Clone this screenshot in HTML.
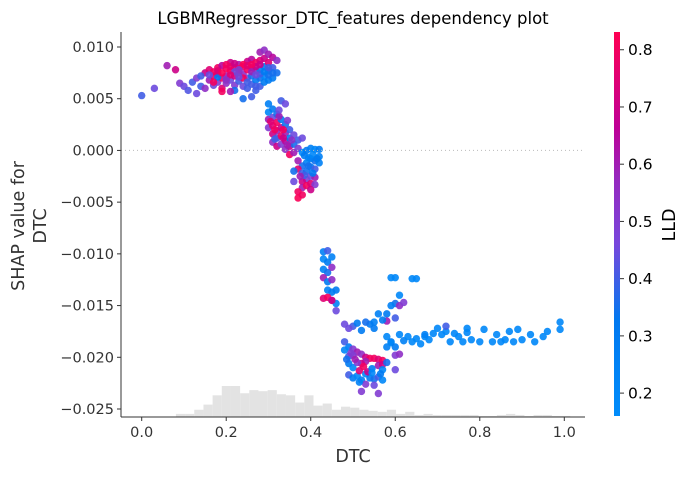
<!DOCTYPE html>
<html><head><meta charset="utf-8"><style>
html,body{margin:0;padding:0;background:#fff;}
svg text{font-family:"DejaVu Sans","Liberation Sans",sans-serif;}
</style></head><body>
<svg id="chart" width="687" height="475" viewBox="0 0 687 475" xmlns="http://www.w3.org/2000/svg">
<defs><linearGradient id="cg" x1="0" y1="1" x2="0" y2="0">
<stop offset="0" stop-color="rgb(0,140,250)"/><stop offset="0.25" stop-color="rgb(0,120,240)"/><stop offset="0.45" stop-color="rgb(120,70,220)"/><stop offset="0.62" stop-color="rgb(150,40,190)"/><stop offset="0.75" stop-color="rgb(190,0,150)"/><stop offset="1" stop-color="rgb(255,0,82)"/></linearGradient></defs>
<text x="353" y="24" font-size="16.5" text-anchor="middle" fill="#000">LGBMRegressor_DTC_features dependency plot</text>
<g id="hist"></g><g id="pts"></g><g id="axes"></g>
<text x="353" y="462" font-size="17.5" text-anchor="middle" fill="#333">DTC</text>
<text transform="translate(24,226) rotate(-90)" font-size="17.5" text-anchor="middle" fill="#333"><tspan x="0" dy="0">SHAP value for</tspan><tspan x="0" dy="22">DTC</tspan></text>
<rect x="614" y="32" width="6" height="384" fill="url(#cg)"/>
<g id="cbar"></g>
<text transform="translate(675,225) rotate(-90)" font-size="17.5" text-anchor="middle" fill="#000">LLD</text>
</svg>
<script>
const histStart=0.081, histWidth=0.0217;
const histCounts=[3,3,7,12,21,30,30,23,26,25,26,22,21,14,21,11,13,7,10,9,7,6,5,7,3,5,2,3,2,2,2,2,2,1,1,2,3,2,1,2,2,1,1];
const xTicks=[0,0.2,0.4,0.6,0.8,1.0];
const xTickLabels=["0.0","0.2","0.4","0.6","0.8","1.0"];
const yTicks=[0.010,0.005,0,-0.005,-0.010,-0.015,-0.020,-0.025];
const yTickLabels=["0.010","0.005","0.000","\u22120.005","\u22120.010","\u22120.015","\u22120.020","\u22120.025"];
const cTicks=[0.2,0.3,0.4,0.5,0.6,0.7,0.8];
const dtc=[0.00,0.03,0.06,0.08,0.09,0.10,0.11,0.12,0.13,0.13,0.14,0.15,0.15,0.16,0.16,0.17,0.17,0.18,0.18,0.18,0.19,0.19,0.19,0.20,0.20,0.20,0.21,0.21,0.21,0.22,0.22,0.22,0.22,0.23,0.23,0.23,0.24,0.24,0.24,0.25,0.25,0.25,0.25,0.26,0.26,0.26,0.26,0.27,0.27,0.27,0.27,0.28,0.28,0.28,0.28,0.28,0.29,0.29,0.29,0.29,0.29,0.30,0.30,0.30,0.30,0.31,0.31,0.31,0.32,0.32,0.21,0.19,0.24,0.26,0.18,0.14,
0.17,0.18,0.19,0.20,0.21,0.22,0.23,0.24,0.25,0.26,0.27,0.20,0.22,0.24,0.26,0.28,0.30,0.23,0.25,0.27,0.29,0.31,0.17,0.21,0.23,0.27,0.16,0.20,0.30,0.28,
0.30,0.30,0.30,0.30,0.31,0.31,0.31,0.31,0.31,0.32,0.32,0.32,0.32,0.32,0.33,0.33,0.33,0.33,0.33,0.34,0.34,0.34,0.34,0.34,0.35,0.35,0.35,0.35,0.36,0.36,0.36,0.37,0.37,0.38,
0.305,0.315,0.325,0.335,0.345,0.355,0.315,0.325,0.335,0.345,
0.38,0.39,0.40,0.41,0.42,0.42,0.41,0.40,0.39,0.38,0.37,0.37,0.38,0.39,0.40,0.41,0.42,0.39,0.40,0.38,0.38,0.39,0.40,0.41,0.41,0.37,0.37,0.38,0.40,0.36,0.36,
0.385,0.395,0.405,0.415,0.385,0.395,0.405,0.375,
0.43,0.44,0.43,0.44,0.45,0.43,0.44,0.45,0.43,0.44,0.45,0.44,0.45,0.43,0.44,0.45,0.46,0.46,0.46,0.45,
0.59,0.60,0.64,0.65,0.61,0.60,0.59,0.58,0.60,0.61,0.62,0.58,0.56,0.57,0.55,0.54,
0.48,0.50,0.49,0.51,0.52,0.53,0.55,0.48,0.49,0.50,0.51,0.48,0.49,0.50,0.52,0.53,0.54,0.55,0.56,0.57,0.53,0.52,0.49,0.50,0.51,0.56,0.57,0.58,0.58,0.59,0.60,0.61,0.60,0.49,0.50,0.51,0.52,0.53,0.54,0.55,0.56,0.57,0.53,0.55,0.52,0.56,0.57,
0.495,0.505,0.515,0.525,0.535,0.545,0.485,0.515,0.545,0.565,
0.58,0.59,0.61,0.62,0.63,0.64,0.65,0.66,0.67,0.68,0.69,0.70,0.71,0.72,0.73,0.74,0.75,0.76,0.77,0.78,0.80,0.81,0.83,0.84,0.86,0.87,0.88,0.89,0.90,0.92,0.93,0.95,0.96,0.99,0.99,0.72,0.67,0.60,0.77,0.85];
const shap=[0.0053,0.0060,0.0082,0.0078,0.0065,0.0062,0.0058,0.0066,0.0070,0.0055,0.0062,0.0060,0.0075,0.0078,0.0068,0.0072,0.0063,0.0080,0.0074,0.0066,0.0082,0.0070,0.0060,0.0079,0.0072,0.0065,0.0085,0.0077,0.0068,0.0080,0.0072,0.0063,0.0058,0.0083,0.0075,0.0067,0.0081,0.0074,0.0062,0.0086,0.0078,0.0070,0.0060,0.0088,0.0080,0.0072,0.0064,0.0085,0.0077,0.0068,0.0058,0.0095,0.0087,0.0078,0.0070,0.0062,0.0097,0.0089,0.0081,0.0072,0.0066,0.0093,0.0085,0.0077,0.0068,0.0090,0.0080,0.0070,0.0087,0.0075,0.0057,0.0057,0.0050,0.0052,0.0071,0.0072,
0.0076,0.0077,0.0075,0.0083,0.0081,0.0084,0.0079,0.0083,0.0082,0.0076,0.0081,0.0069,0.0076,0.0070,0.0083,0.0074,0.0073,0.0071,0.0066,0.0073,0.0076,0.0075,0.0066,0.0073,0.0078,0.0062,0.0073,0.0068,0.0080,0.0083,
0.0045,0.0037,0.0030,0.0022,0.0040,0.0032,0.0024,0.0016,0.0008,0.0035,0.0027,0.0019,0.0012,0.0004,0.0048,0.0030,0.0022,0.0014,0.0006,0.0045,0.0025,0.0017,0.0009,0.0001,0.0020,0.0012,0.0004,-0.0004,0.0015,0.0006,-0.0002,0.0010,0.0002,0.0012,
0.0028,0.0020,0.0033,0.0012,0.0029,0.0010,0.0011,0.0039,0.0020,0.0005,
-0.0002,0.0000,0.0002,0.0001,0.0001,-0.0006,-0.0010,-0.0008,-0.0012,-0.0015,-0.0010,-0.0018,-0.0022,-0.0020,-0.0016,-0.0018,-0.0012,-0.0028,-0.0025,-0.0030,-0.0036,-0.0034,-0.0032,-0.0026,-0.0033,-0.0040,-0.0046,-0.0043,-0.0038,-0.0030,-0.0020,
-0.0005,-0.0007,-0.0004,-0.0008,-0.0024,-0.0015,-0.0022,-0.0025,
-0.0098,-0.0097,-0.0105,-0.0108,-0.0103,-0.0115,-0.0118,-0.0113,-0.0123,-0.0127,-0.0125,-0.0135,-0.0137,-0.0143,-0.0142,-0.0145,-0.0148,-0.0155,-0.0135,-0.0145,
-0.0123,-0.0123,-0.0124,-0.0124,-0.0140,-0.0148,-0.0150,-0.0158,-0.0162,-0.0150,-0.0147,-0.0165,-0.0158,-0.0164,-0.0166,-0.0168,
-0.0168,-0.0170,-0.0172,-0.0167,-0.0174,-0.0166,-0.0172,-0.0185,-0.0190,-0.0192,-0.0195,-0.0193,-0.0199,-0.0198,-0.0197,-0.0200,-0.0201,-0.0201,-0.0202,-0.0203,-0.0204,-0.0206,-0.0206,-0.0210,-0.0205,-0.0208,-0.0207,-0.0205,-0.0190,-0.0185,-0.0198,-0.0197,-0.0212,-0.0217,-0.0220,-0.0218,-0.0222,-0.0216,-0.0220,-0.0221,-0.0219,-0.0222,-0.0226,-0.0227,-0.0233,-0.0235,-0.0212,
-0.0196,-0.0202,-0.0213,-0.0209,-0.0214,-0.0211,-0.0202,-0.0224,-0.0215,-0.0216,
-0.0180,-0.0186,-0.0178,-0.0184,-0.0180,-0.0185,-0.0182,-0.0187,-0.0180,-0.0183,-0.0177,-0.0172,-0.0178,-0.0175,-0.0185,-0.0177,-0.0180,-0.0185,-0.0176,-0.0183,-0.0185,-0.0173,-0.0185,-0.0178,-0.0183,-0.0175,-0.0185,-0.0173,-0.0183,-0.0178,-0.0185,-0.0180,-0.0175,-0.0166,-0.0173,-0.0170,-0.0178,-0.0190,-0.0172,-0.0185];
const lld=[0.4,0.45,0.6,0.7,0.5,0.45,0.42,0.4,0.5,0.45,0.4,0.55,0.7,0.75,0.6,0.78,0.45,0.8,0.7,0.5,0.65,0.8,0.75,0.8,0.6,0.55,0.7,0.82,0.45,0.75,0.7,0.5,0.35,0.6,0.8,0.4,0.75,0.55,0.45,0.7,0.8,0.5,0.4,0.65,0.7,0.35,0.4,0.8,0.5,0.3,0.4,0.6,0.75,0.25,0.35,0.4,0.55,0.7,0.3,0.2,0.3,0.6,0.75,0.35,0.3,0.65,0.4,0.3,0.55,0.35,0.6,0.8,0.35,0.4,0.3,0.4,
0.8,0.75,0.82,0.8,0.78,0.7,0.8,0.82,0.75,0.6,0.7,0.5,0.45,0.8,0.8,0.4,0.35,0.45,0.4,0.45,0.3,0.35,0.8,0.75,0.5,0.4,0.45,0.55,0.4,0.7,
0.25,0.2,0.6,0.5,0.3,0.45,0.75,0.7,0.55,0.35,0.8,0.6,0.4,0.7,0.4,0.3,0.7,0.8,0.5,0.45,0.35,0.6,0.65,0.55,0.4,0.3,0.7,0.8,0.45,0.35,0.6,0.4,0.5,0.45,
0.75,0.8,0.6,0.7,0.5,0.55,0.4,0.45,0.8,0.6,
0.2,0.3,0.25,0.2,0.3,0.25,0.35,0.3,0.25,0.35,0.6,0.75,0.4,0.35,0.3,0.4,0.25,0.5,0.45,0.7,0.6,0.8,0.75,0.6,0.5,0.8,0.82,0.8,0.7,0.45,0.35,
0.3,0.25,0.2,0.3,0.4,0.35,0.3,0.6,
0.25,0.4,0.2,0.3,0.25,0.25,0.35,0.55,0.6,0.3,0.55,0.25,0.3,0.75,0.8,0.6,0.25,0.45,0.3,0.7,
0.2,0.2,0.2,0.2,0.2,0.35,0.25,0.3,0.4,0.55,0.5,0.6,0.25,0.3,0.25,0.3,
0.45,0.4,0.45,0.3,0.3,0.35,0.3,0.4,0.3,0.5,0.6,0.2,0.4,0.5,0.55,0.7,0.8,0.8,0.75,0.8,0.6,0.7,0.3,0.2,0.5,0.6,0.7,0.35,0.25,0.3,0.5,0.55,0.45,0.4,0.3,0.2,0.25,0.2,0.3,0.35,0.4,0.2,0.5,0.45,0.5,0.5,0.2,
0.5,0.6,0.75,0.8,0.7,0.3,0.35,0.25,0.2,0.3,
0.2,0.2,0.2,0.25,0.2,0.2,0.2,0.2,0.2,0.2,0.2,0.2,0.2,0.2,0.2,0.2,0.2,0.2,0.2,0.2,0.2,0.2,0.2,0.2,0.2,0.2,0.2,0.2,0.2,0.2,0.2,0.2,0.2,0.2,0.2,0.4,0.25,0.3,0.2,0.2];

const NS='http://www.w3.org/2000/svg';
const L=121,R=585,T=32,B=417;
function xs(v){return 141.7+v*422.6;}
function ys(v){return 47+(0.010-v)*10343;}
const cMin=0.16,cMax=0.831;
function cy(v){return 416-(v-cMin)/(cMax-cMin)*384;}
const stops=[[0,[0,140,250]],[0.25,[0,120,240]],[0.45,[120,70,220]],[0.62,[150,40,190]],[0.75,[190,0,150]],[1,[255,0,82]]];
function col(v){let t=Math.max(0,Math.min(1,(v-cMin)/(cMax-cMin)));
 for(let i=1;i<stops.length;i++){if(t<=stops[i][0]){const a=stops[i-1],b=stops[i],f=(t-a[0])/(b[0]-a[0]);
 return 'rgb('+a[1].map((c,k)=>Math.round(c+(b[1][k]-c)*f)).join(',')+')';}}return 'rgb(255,0,82)';}
function mk(tag,attrs,parent){const e=document.createElementNS(NS,tag);for(const k in attrs)e.setAttribute(k,attrs[k]);parent.appendChild(e);return e;}

const hist=document.getElementById('hist');
const hMax=30, hPx=31;
histCounts.forEach((c,i)=>{const x0=xs(histStart+i*histWidth),x1=xs(histStart+(i+1)*histWidth),h=c/hMax*hPx;
 const r=mk('rect',{x:x0,y:B-h,width:x1-x0,height:h,fill:'#e3e3e3'},hist);
 
 });

const axes=document.getElementById('axes');
const zl=mk('line',{x1:L,x2:R,y1:ys(0),y2:ys(0),stroke:'#bbb','stroke-width':1,'stroke-dasharray':'1,3'},axes);


const pts=document.getElementById('pts');
for(let i=0;i<dtc.length;i++){
 const c=mk('circle',{cx:xs(dtc[i]),cy:ys(shap[i]),r:3.7,fill:col(lld[i]),'fill-opacity':0.9},pts);
 
 }
const xa=mk('line',{x1:L,x2:R,y1:B,y2:B,stroke:'#333','stroke-width':1},axes);


const ya=mk('line',{x1:L,x2:L,y1:T,y2:B,stroke:'#333','stroke-width':1},axes);


xTicks.forEach((v,i)=>{const x=xs(v);mk('line',{x1:x,x2:x,y1:B,y2:B+4,stroke:'#333'},axes);
 const t=mk('text',{x:x,y:B+20,'font-size':14.5,'text-anchor':'middle',fill:'#333'},axes);t.textContent=xTickLabels[i];
 
 });
yTicks.forEach((v,i)=>{const y=ys(v);mk('line',{x1:L-4,x2:L,y1:y,y2:y,stroke:'#333'},axes);
 const t=mk('text',{x:L-7,y:y+5,'font-size':14.5,'text-anchor':'end',fill:'#333'},axes);t.textContent=yTickLabels[i];
 
 });
const cb=document.getElementById('cbar');
cTicks.forEach(v=>{const y=cy(v);mk('line',{x1:620,x2:624,y1:y,y2:y,stroke:'#333'},cb);
 const t=mk('text',{x:628,y:y+5.5,'font-size':15.5,fill:'#000'},cb);t.textContent=v.toFixed(1);
 
 });
</script>
</body></html>
